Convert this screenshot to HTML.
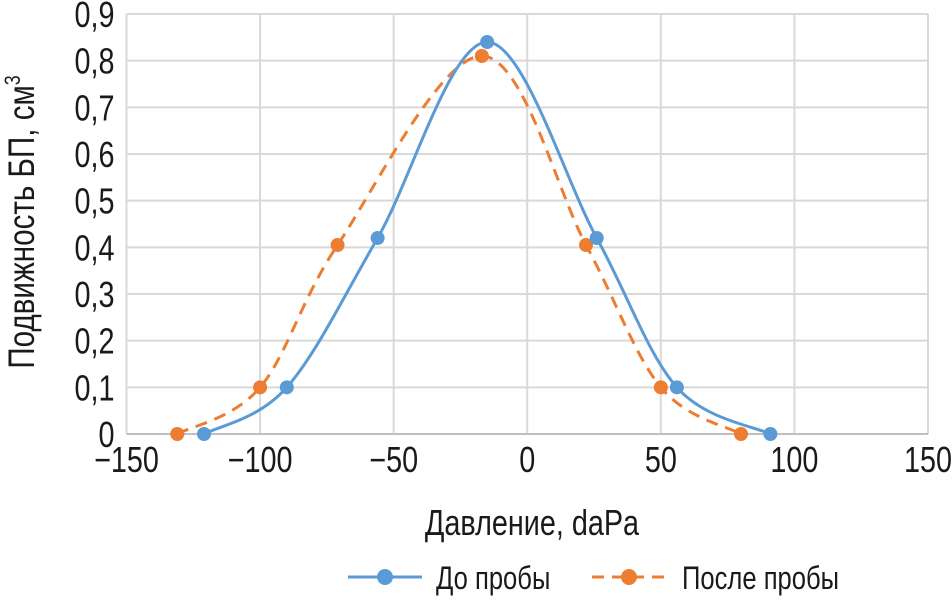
<!DOCTYPE html>
<html><head><meta charset="utf-8"><style>
body{margin:0;background:#fff;}
svg text{font-family:"Liberation Sans",sans-serif;fill:#1a1a1a;}
</style></head><body>
<svg width="952" height="606" viewBox="0 0 952 606" xmlns="http://www.w3.org/2000/svg">
<g id="grid"></g>
<g id="ticks"></g>
<g id="series"></g>
<text transform="translate(34,222) rotate(-90) scale(0.8,1)" text-anchor="middle" font-size="37">Подвижность БП, см<tspan font-size="22" dy="-14">3</tspan></text>
<text transform="translate(532,535) scale(0.8,1)" text-anchor="middle" font-size="36">Давление, daPa</text>
<g>
<g>
<line x1="348" y1="577" x2="422" y2="577" stroke="#5b9bd5" stroke-width="3"/>
<circle cx="385" cy="577" r="8" fill="#5b9bd5"/>
<text transform="translate(436,589) scale(0.8,1)" font-size="32">До пробы</text></g>
<g>
<line x1="592" y1="577" x2="668" y2="577" stroke="#ed7d31" stroke-width="3" stroke-dasharray="12,8"/>
<circle cx="629" cy="577" r="8" fill="#ed7d31"/>
<text transform="translate(682,589) scale(0.8,1)" font-size="32">После пробы</text></g>
</g>
</svg>
<script>
const xTicks=[-150,-100,-50,0,50,100,150];
const xTickLabels=["−150","−100","−50","0","50","100","150"];
const yTicks=[0,0.1,0.2,0.3,0.4,0.5,0.6,0.7,0.8,0.9];
const yTickLabels=["0","0,1","0,2","0,3","0,4","0,5","0,6","0,7","0,8","0,9"];
const beforeX=[-121,-90,-56,-15,26,56,91];
const beforeY=[0,0.1,0.42,0.84,0.42,0.1,0];
const afterX=[-131,-100,-71,-17,22,50,80];
const afterY=[0,0.1,0.405,0.81,0.405,0.1,0];
const X0=126.5,X1=928,Y0=434,Y1=14;
const sx=v=>X0+(v+150)/300*(X1-X0);
const sy=v=>Y0-v/0.9*(Y0-Y1);
const NS="http://www.w3.org/2000/svg";
function mk(t,a,p){const e=document.createElementNS(NS,t);for(const k in a)e.setAttribute(k,a[k]);p.appendChild(e);return e;}
const grid=document.getElementById('grid'),ticks=document.getElementById('ticks'),ser=document.getElementById('series');
xTicks.forEach((v,i)=>{
 const l=mk('line',{x1:sx(v),x2:sx(v),y1:Y1,y2:Y0,stroke:'#d9d9d9','stroke-width':2},grid);
 
 
 const t=mk('text',{transform:`translate(${sx(v)},${Y0+38}) scale(0.8,1)`,'text-anchor':'middle','font-size':36},ticks);
 t.textContent=xTickLabels[i];
 
 
});
yTicks.forEach((v,i)=>{
 const l=mk('line',{x1:X0,x2:X1,y1:sy(v),y2:sy(v),stroke:v===0?'#bfbfbf':'#d9d9d9','stroke-width':2},grid);
 
 
 const t=mk('text',{transform:`translate(${X0-12},${sy(v)+13}) scale(0.8,1)`,'text-anchor':'end','font-size':36},ticks);
 t.textContent=yTickLabels[i];
 
 
});
function smooth(xs,ys){
 const p=xs.map((x,i)=>[sx(x),sy(ys[i])]);
 let d=`M${p[0][0]},${p[0][1]}`;
 for(let i=0;i<p.length-1;i++){
  const a=p[i-1]||p[i],b=p[i],c=p[i+1],e=p[i+2]||c;
  const k=1/6;
  d+=` C${b[0]+(c[0]-a[0])*k},${b[1]+(c[1]-a[1])*k} ${c[0]-(e[0]-b[0])*k},${c[1]-(e[1]-b[1])*k} ${c[0]},${c[1]}`;
 }
 return d;
}
function draw(xs,ys,col,dash,name){
 const g=mk('g',{},ser);
 
 
 const path=mk('path',{d:smooth(xs,ys),fill:'none',stroke:col,'stroke-width':3,'stroke-dasharray':dash},g);
 
 
 xs.forEach((x,i)=>{
  const c=mk('circle',{cx:sx(x),cy:sy(ys[i]),r:7,fill:col},g);
  
  
 });
}
draw(afterX,afterY,'#ed7d31','12,8','series-after');
draw(beforeX,beforeY,'#5b9bd5','none','series-before');
</script>
</body></html>
